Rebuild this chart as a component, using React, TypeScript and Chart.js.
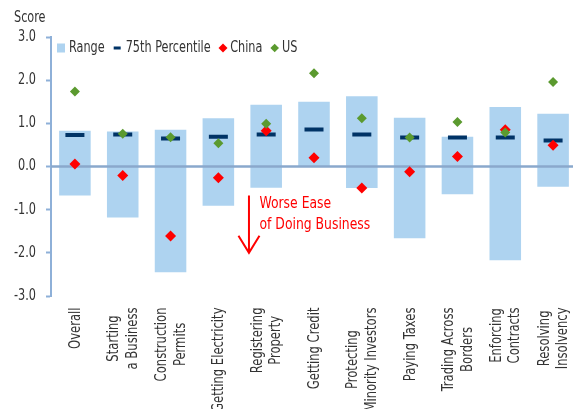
import React, { useEffect, useRef } from "react";
import { Chart, registerables } from "chart.js";
Chart.register(...registerables);

const categories: string[][] = [
  ["Overall"],
  ["Starting", "a Business"],
  ["Construction", "Permits"],
  ["Getting Electricity"],
  ["Registering", "Property"],
  ["Getting Credit"],
  ["Protecting", "Minority Investors"],
  ["Paying Taxes"],
  ["Trading Across", "Borders"],
  ["Enforcing", "Contracts"],
  ["Resolving", "Insolvency"],
];
const rangeLow = [-0.67, -1.18, -2.45, -0.91, -0.49, 0.0, -0.5, -1.66, -0.64, -2.17, -0.47];
const rangeHigh = [0.83, 0.81, 0.85, 1.12, 1.43, 1.5, 1.63, 1.13, 0.69, 1.38, 1.22];
const percentile75 = [0.73, 0.74, 0.65, 0.69, 0.74, 0.86, 0.74, 0.67, 0.67, 0.67, 0.6];
const china = [0.06, -0.21, -1.61, -0.26, 0.83, 0.2, -0.5, -0.12, 0.23, 0.85, 0.49];
const us = [1.74, 0.76, 0.68, 0.54, 0.99, 2.16, 1.12, 0.67, 1.03, 0.79, 1.96];
const yTicks = [-3, -2, -1, 0, 1, 2, 3];
const legendLabels = ["Range", "75th Percentile", "China", "US"];
const annotationLines = ["Worse Ease", "of Doing Business"];

const FONT = '"DejaVu Sans Condensed", "Liberation Sans Narrow", "Roboto", sans-serif';
const SX = 0.835;
const C_TEXT = "#333";
const C_RANGE = "#aed3f0";
const C_PCT = "#003366";
const C_CHINA = "#ff0000";
const C_US = "#5b9a2f";
const C_AXIS = "#8eb0d8";
const C_ZERO = "#8aa8cc";

function narrowText(ctx: CanvasRenderingContext2D, text: string, x: number, y: number, sx = SX) {
  ctx.save();
  ctx.translate(x, y);
  ctx.scale(sx, 1);
  ctx.fillText(text, 0, 0);
  ctx.restore();
}
function narrowWidth(ctx: CanvasRenderingContext2D, text: string, sx = SX) {
  return ctx.measureText(text).width * sx;
}

function diamond(ctx: CanvasRenderingContext2D, cx: number, cy: number, r: number, color: string) {
  ctx.fillStyle = color;
  ctx.beginPath();
  ctx.moveTo(cx - r, cy);
  ctx.lineTo(cx, cy - r);
  ctx.lineTo(cx + r, cy);
  ctx.lineTo(cx, cy + r);
  ctx.closePath();
  ctx.fill();
}

const overlay = {
  id: "overlay",
  afterDatasetDraw(chart: any, args: any) {
    if (args.index !== 0) return;
    const { ctx, chartArea } = chart;
    const py = chart.scales.y.getPixelForValue(0);
    ctx.save();
    ctx.strokeStyle = C_ZERO;
    ctx.lineWidth = 2.5;
    ctx.beginPath();
    ctx.moveTo(chartArea.left, py);
    ctx.lineTo(chartArea.right, py);
    ctx.stroke();
    ctx.restore();
  },
  afterDraw(chart: any) {
    const { ctx } = chart;
    const xs = chart.scales.x;
    const ys = chart.scales.y;
    ctx.save();
    ctx.font = `15px ${FONT}`;
    ctx.fillStyle = C_TEXT;

    // Title
    ctx.textAlign = "left";
    ctx.textBaseline = "alphabetic";
    narrowText(ctx, "Score", 14, 21.5);

    // Y tick labels
    ctx.textAlign = "right";
    ctx.textBaseline = "middle";
    yTicks.forEach((v) => {
      narrowText(ctx, v.toFixed(1), 36, ys.getPixelForValue(v));
    });

    // X labels: rotated block, top-aligned, lines centred within block
    ctx.textAlign = "center";
    ctx.textBaseline = "middle";
    const lh = 18.5;
    const top = 307.5;
    const lsx = 0.86;
    categories.forEach((lines, i) => {
      const px = xs.getPixelForValue(i) + 1;
      const n = lines.length;
      const W = Math.max(...lines.map((l) => narrowWidth(ctx, l, lsx)));
      lines.forEach((line, j) => {
        const cx = px + (j - (n - 1) / 2) * lh;
        ctx.save();
        ctx.translate(cx, top + W / 2);
        ctx.rotate(-Math.PI / 2);
        ctx.scale(lsx, 1);
        ctx.fillText(line, 0, 0);
        ctx.restore();
      });
    });

    // Legend
    ctx.textAlign = "left";
    ctx.textBaseline = "middle";
    let x = 57;
    const cy = 48;
    ctx.fillStyle = C_RANGE;
    ctx.fillRect(x, cy - 4.5, 8, 9);
    x += 12;
    ctx.fillStyle = C_TEXT;
    narrowText(ctx, legendLabels[0], x, cy);
    x += narrowWidth(ctx, legendLabels[0]) + 9;
    ctx.fillStyle = C_PCT;
    ctx.fillRect(x, cy - 1.5, 7, 3);
    x += 12;
    ctx.fillStyle = C_TEXT;
    narrowText(ctx, legendLabels[1], x, cy);
    x += narrowWidth(ctx, legendLabels[1]) + 8;
    diamond(ctx, x + 4.3, cy, 4.5, C_CHINA);
    x += 11.5;
    ctx.fillStyle = C_TEXT;
    narrowText(ctx, legendLabels[2], x, cy);
    x += narrowWidth(ctx, legendLabels[2]) + 8;
    diamond(ctx, x + 4.3, cy, 4.3, C_US);
    x += 11.5;
    ctx.fillStyle = C_TEXT;
    narrowText(ctx, legendLabels[3], x, cy);

    // Annotation arrow
    const ax = xs.getPixelForValue(3.64);
    const ay0 = ys.getPixelForValue(-0.67);
    const ay1 = ys.getPixelForValue(-2.0);
    ctx.strokeStyle = C_CHINA;
    ctx.lineWidth = 2;
    ctx.beginPath();
    ctx.moveTo(ax, ay0);
    ctx.lineTo(ax, ay1);
    ctx.moveTo(ax - 10.5, ay1 - 17);
    ctx.lineTo(ax, ay1);
    ctx.lineTo(ax + 10.5, ay1 - 17);
    ctx.stroke();
    ctx.fillStyle = C_CHINA;
    ctx.font = `16.5px ${FONT}`;
    const tx = xs.getPixelForValue(3.86);
    narrowText(ctx, annotationLines[0], tx, ys.getPixelForValue(-0.87));
    narrowText(ctx, annotationLines[1], tx, ys.getPixelForValue(-1.35));
    ctx.restore();
  },
};

export default function App() {
  const ref = useRef<HTMLCanvasElement>(null);
  useEffect(() => {
    if (!ref.current) return;
    const chart = new Chart(ref.current, {
      type: "bar",
      data: {
        labels: categories.map((c) => c.join(" ")),
        datasets: [
          {
            type: "bar",
            label: legendLabels[0],
            data: rangeLow.map((l, i) => [l, rangeHigh[i]]) as any,
            backgroundColor: C_RANGE,
            barPercentage: 0.66,
            categoryPercentage: 1,
            order: 4,
          },
          {
            type: "line",
            label: legendLabels[1],
            data: percentile75,
            showLine: false,
            pointStyle: "line",
            pointRadius: 9.5,
            pointBorderWidth: 4,
            pointBorderColor: C_PCT,
            pointBackgroundColor: C_PCT,
            order: 3,
          } as any,
          {
            type: "line",
            label: legendLabels[2],
            data: china,
            showLine: false,
            pointStyle: "rectRot",
            pointRadius: 5.5,
            pointBorderWidth: 0,
            pointBorderColor: C_CHINA,
            pointBackgroundColor: C_CHINA,
            order: 2,
          } as any,
          {
            type: "line",
            label: legendLabels[3],
            data: us,
            showLine: false,
            pointStyle: "rectRot",
            pointRadius: 5,
            pointBorderWidth: 0,
            pointBorderColor: C_US,
            pointBackgroundColor: C_US,
            order: 1,
          } as any,
        ],
      },
      options: {
        responsive: false,
        maintainAspectRatio: false,
        animation: false,
        layout: { autoPadding: false, padding: { top: 37, bottom: 113, right: 1, left: 0 } },
        plugins: { legend: { display: false }, tooltip: { enabled: false } },
        scales: {
          x: { display: false, offset: true },
          y: {
            min: -3,
            max: 3,
            afterFit: (s: any) => {
              s.width = 51;
            },
            afterBuildTicks: (s: any) => {
              s.ticks = yTicks.map((v) => ({ value: v }));
            },
            ticks: { display: false },
            grid: { drawOnChartArea: false, drawTicks: true, tickLength: 5, color: C_AXIS, tickWidth: 2 },
            border: { color: C_AXIS, width: 2 },
          },
        },
      },
      plugins: [overlay],
    });
    return () => chart.destroy();
  }, []);
  return (
    <div style={{ position: "fixed", left: 0, top: 0, width: 578, height: 409, background: "#fff" }}>
      <canvas ref={ref} width={578} height={409} style={{ display: "block", width: 578, height: 409 }} />
    </div>
  );
}
